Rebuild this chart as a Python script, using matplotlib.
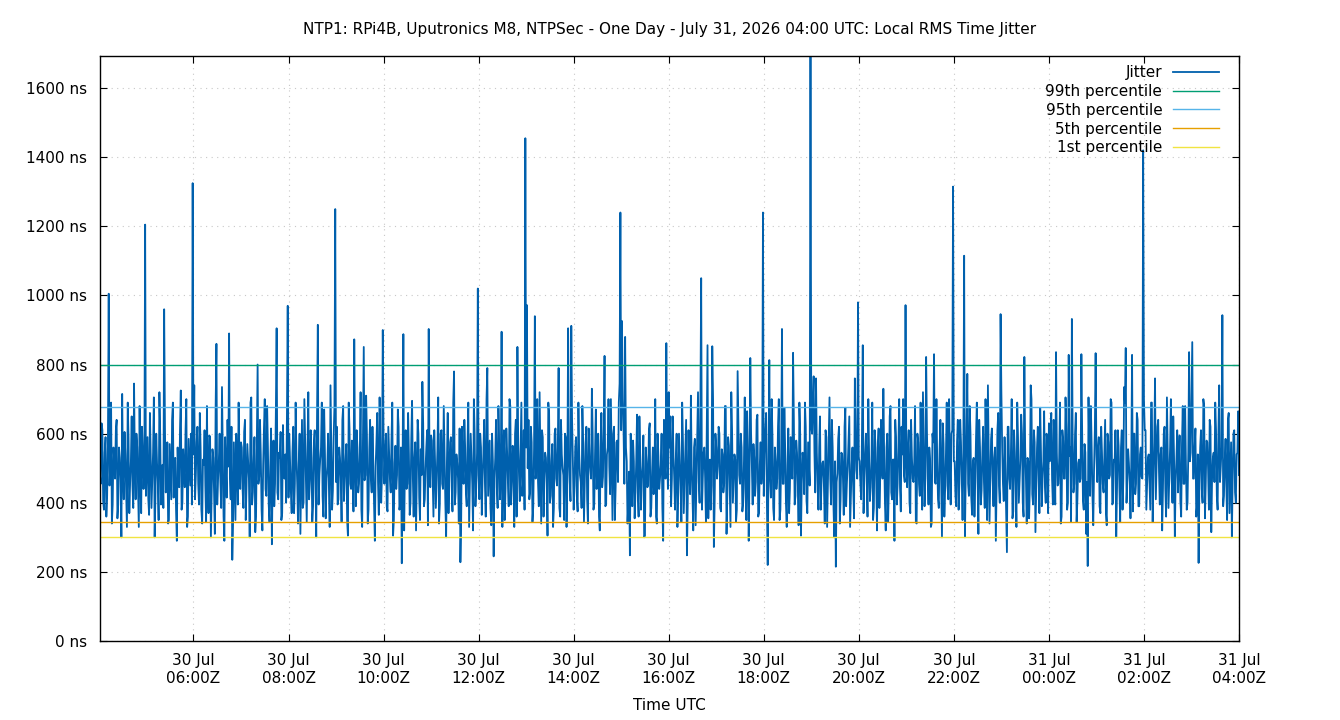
import datetime as dt
import numpy as np
import matplotlib
matplotlib.use('Agg')
import matplotlib.pyplot as plt
import matplotlib.dates as mdates
from matplotlib.ticker import MultipleLocator, FuncFormatter

# jitter samples in ns, one row per hour starting 30 Jul 04:01 UTC
# even minutes (04:01, 04:03, ...)
jitter_a = [
    [720, 455, 610, 380, 590, 420, 1005, 510, 340, 560, 470, 640, 395, 530, 300, 480, 605, 430, 690, 370, 520, 450, 745, 410, 560, 330, 475, 620, 440, 1205],
    [505, 410, 660, 385, 545, 300, 600, 460, 720, 395, 510, 960, 430, 575, 350, 490, 640, 415, 530, 290, 470, 610, 380, 555, 445, 700, 360, 520, 600, 1325],
    [740, 480, 620, 395, 560, 340, 510, 450, 680, 370, 590, 420, 530, 310, 860, 465, 600, 385, 545, 290, 495, 640, 890, 410, 235, 575, 350, 510, 690, 440],
    [560, 385, 640, 450, 520, 300, 705, 430, 590, 360, 800, 475, 540, 320, 615, 440, 680, 395, 505, 280, 580, 455, 905, 410, 530, 350, 625, 470, 400, 970],
    [600, 430, 545, 370, 690, 455, 515, 310, 640, 400, 580, 345, 720, 465, 530, 390, 610, 300, 915, 480, 560, 420, 670, 355, 505, 445, 740, 380, 590, 1250],
    [620, 410, 530, 345, 680, 470, 570, 305, 615, 440, 505, 873, 390, 560, 455, 720, 330, 851, 480, 595, 380, 640, 430, 520, 290, 575, 460, 705, 400, 900],
    [455, 600, 375, 540, 430, 690, 350, 565, 480, 620, 395, 225, 888, 510, 440, 660, 365, 585, 470, 530, 320, 640, 415, 555, 750, 390, 500, 610, 903, 445],
    [580, 360, 520, 470, 705, 395, 610, 440, 545, 300, 660, 485, 590, 375, 780, 430, 515, 340, 228, 620, 455, 560, 390, 690, 470, 530, 320, 600, 445, 1020],
    [410, 560, 470, 640, 360, 790, 500, 385, 600, 245, 530, 445, 680, 410, 895, 520, 350, 615, 460, 700, 395, 565, 330, 640, 851, 480, 550, 420, 610, 1455],
    [972, 640, 430, 575, 390, 940, 505, 460, 720, 340, 590, 475, 530, 305, 660, 420, 570, 385, 615, 450, 790, 360, 540, 480, 600, 330, 905, 470, 912, 520],
    [450, 590, 375, 540, 460, 680, 345, 570, 410, 615, 500, 730, 380, 545, 440, 600, 320, 660, 475, 825, 395, 560, 505, 700, 350, 620, 445, 580, 690, 1240],
    [926, 610, 880, 520, 400, 248, 470, 580, 355, 520, 430, 650, 380, 505, 300, 560, 445, 610, 360, 490, 425, 700, 340, 535, 470, 600, 290, 515, 862, 440],
    [560, 390, 650, 470, 525, 330, 600, 445, 690, 370, 540, 248, 610, 425, 505, 320, 585, 460, 720, 400, 1050, 470, 560, 345, 856, 490, 380, 853, 272, 600],
    [470, 620, 385, 555, 430, 680, 310, 590, 455, 720, 400, 540, 345, 781, 480, 600, 375, 520, 440, 665, 290, 819, 505, 570, 420, 640, 360, 510, 455, 1240],
    [540, 660, 220, 813, 415, 590, 350, 520, 470, 700, 380, 903, 455, 560, 330, 615, 440, 505, 834, 395, 580, 460, 690, 305, 545, 425, 620, 370, 510, 1690],
    [600, 766, 430, 545, 380, 650, 470, 520, 340, 590, 450, 705, 395, 560, 300, 215, 485, 620, 410, 540, 365, 675, 460, 580, 330, 510, 440, 760, 495, 980],
    [520, 410, 856, 475, 600, 360, 540, 445, 690, 385, 570, 320, 615, 470, 505, 730, 400, 560, 345, 650, 430, 525, 290, 590, 455, 700, 375, 540, 480, 972],
    [445, 610, 370, 535, 460, 680, 340, 575, 420, 505, 720, 390, 822, 480, 560, 330, 600, 830, 455, 520, 385, 640, 300, 570, 440, 690, 410, 515, 600, 1315],
    [520, 390, 640, 455, 575, 350, 1115, 480, 773, 420, 600, 365, 530, 460, 690, 310, 560, 435, 620, 385, 505, 740, 340, 585, 470, 530, 290, 610, 450, 946],
    [560, 405, 495, 257, 620, 440, 700, 375, 545, 330, 590, 460, 655, 400, 822, 470, 530, 355, 740, 425, 610, 315, 560, 480, 675, 390, 520, 445, 600, 370],
    [520, 660, 395, 575, 836, 450, 530, 340, 610, 470, 705, 380, 828, 560, 932, 430, 600, 345, 515, 460, 830, 405, 570, 310, 217, 540, 680, 420, 495, 833],
    [460, 590, 370, 545, 430, 640, 335, 575, 480, 690, 400, 520, 300, 610, 445, 560, 380, 735, 848, 470, 515, 355, 828, 600, 425, 660, 390, 540, 475, 1420],
    [610, 380, 530, 455, 690, 345, 575, 410, 620, 490, 540, 320, 600, 440, 705, 385, 560, 470, 650, 300, 525, 430, 595, 360, 680, 455, 510, 400, 836, 545],
    [865, 470, 615, 390, 226, 560, 440, 700, 355, 580, 495, 640, 315, 530, 460, 610, 380, 740, 505, 943, 420, 585, 350, 660, 470, 300, 600, 430, 540, 665],
]
# odd minutes (04:02, 04:04, ...)
jitter_b = [
    [480, 630, 405, 545, 360, 575, 450, 690, 395, 520, 610, 355, 560, 470, 715, 410, 540, 330, 590, 455, 650, 385, 515, 600, 440, 680, 370, 550, 505, 420],
    [590, 365, 540, 470, 705, 420, 515, 350, 600, 480, 385, 620, 455, 340, 570, 410, 690, 505, 380, 560, 445, 725, 400, 495, 610, 330, 585, 450, 395, 540],
    [410, 575, 455, 660, 380, 525, 610, 345, 470, 595, 300, 555, 430, 680, 395, 520, 460, 735, 360, 590, 415, 505, 470, 620, 340, 455, 600, 395, 530, 575],
    [440, 605, 350, 570, 470, 690, 395, 520, 315, 585, 455, 640, 380, 510, 700, 420, 560, 345, 615, 480, 390, 660, 430, 545, 605, 370, 480, 540, 650, 415],
    [510, 370, 620, 455, 535, 340, 600, 470, 385, 700, 455, 560, 410, 610, 345, 575, 480, 650, 395, 525, 690, 360, 540, 470, 600, 330, 560, 435, 680, 460],
    [395, 560, 470, 640, 405, 525, 350, 690, 455, 580, 375, 520, 610, 430, 545, 380, 600, 465, 710, 340, 555, 470, 620, 395, 505, 660, 365, 540, 480, 590],
    [540, 390, 620, 470, 580, 305, 515, 440, 670, 380, 560, 495, 320, 610, 455, 540, 400, 695, 360, 575, 470, 600, 350, 480, 630, 410, 560, 335, 520, 595],
    [470, 610, 385, 550, 340, 600, 455, 680, 400, 520, 370, 575, 450, 690, 395, 540, 470, 615, 350, 505, 640, 425, 570, 330, 600, 455, 700, 390, 545, 480],
    [600, 365, 540, 455, 700, 420, 580, 335, 520, 470, 640, 385, 560, 480, 330, 610, 440, 545, 390, 680, 460, 525, 600, 360, 570, 405, 690, 455, 380, 560],
    [500, 410, 620, 345, 560, 470, 700, 390, 535, 610, 360, 545, 455, 690, 400, 520, 330, 600, 470, 560, 385, 640, 500, 350, 590, 460, 530, 405, 640, 380],
    [560, 420, 690, 480, 385, 575, 455, 620, 340, 530, 470, 600, 395, 670, 505, 360, 560, 445, 610, 390, 540, 700, 425, 520, 600, 350, 575, 460, 745, 610],
    [700, 455, 560, 340, 490, 600, 390, 520, 430, 655, 360, 540, 470, 595, 305, 520, 450, 630, 385, 560, 470, 360, 600, 440, 510, 385, 640, 470, 545, 720],
    [650, 470, 540, 380, 600, 430, 520, 345, 575, 460, 640, 395, 505, 710, 420, 560, 335, 590, 460, 680, 380, 545, 470, 615, 355, 525, 450, 700, 400, 560],
    [505, 600, 375, 540, 455, 680, 420, 565, 330, 610, 470, 525, 380, 640, 455, 560, 400, 705, 350, 545, 480, 600, 395, 530, 460, 655, 370, 575, 490, 420],
    [610, 395, 520, 470, 700, 385, 560, 440, 620, 350, 540, 455, 675, 400, 510, 370, 590, 470, 640, 420, 545, 335, 600, 465, 520, 690, 405, 575, 450, 620],
    [700, 545, 760, 455, 560, 380, 515, 445, 610, 330, 560, 470, 640, 395, 520, 460, 585, 340, 545, 470, 620, 390, 505, 650, 420, 560, 355, 600, 470, 530],
    [455, 600, 370, 545, 470, 700, 405, 520, 350, 610, 460, 560, 385, 640, 470, 540, 320, 600, 455, 680, 410, 525, 640, 395, 560, 445, 620, 700, 460, 535],
    [560, 400, 640, 470, 520, 345, 600, 455, 690, 380, 545, 470, 610, 395, 525, 340, 575, 460, 700, 410, 555, 475, 630, 360, 540, 450, 700, 395, 610, 520],
    [420, 575, 380, 640, 470, 545, 300, 600, 455, 680, 415, 520, 360, 590, 470, 640, 395, 545, 460, 700, 350, 530, 470, 615, 390, 560, 445, 660, 400, 720],
    [455, 590, 380, 620, 470, 540, 355, 610, 450, 690, 400, 525, 600, 360, 560, 340, 520, 455, 700, 395, 575, 440, 620, 370, 545, 470, 665, 400, 580, 630],
    [600, 470, 640, 395, 545, 455, 690, 360, 580, 470, 610, 400, 535, 345, 590, 455, 660, 410, 525, 470, 600, 380, 545, 460, 705, 420, 560, 335, 610, 540],
    [560, 390, 620, 455, 540, 370, 600, 470, 700, 395, 525, 610, 440, 565, 345, 610, 470, 690, 400, 555, 460, 520, 375, 600, 455, 640, 390, 560, 470, 700],
    [610, 455, 540, 380, 690, 470, 760, 520, 640, 395, 560, 440, 620, 360, 545, 470, 700, 400, 530, 465, 610, 520, 405, 570, 455, 680, 380, 545, 520, 700],
    [470, 560, 360, 540, 455, 610, 400, 680, 455, 575, 380, 620, 470, 545, 690, 420, 600, 460, 560, 390, 520, 450, 640, 370, 575, 470, 610, 400, 545, 480],
]

jitter = []
for row_a, row_b in zip(jitter_a, jitter_b):
    for a, b in zip(row_a, row_b):
        jitter += [a, b]

# percentile levels (ns)
pct_labels = ['99th percentile', '95th percentile', '5th percentile', '1st percentile']
pct_values = [799, 677, 344, 301]
pct_colors = ['#009e73', '#56b4e9', '#e69f00', '#f0e442']

start = dt.datetime(2026, 7, 30, 4, 1)
times = [start + dt.timedelta(minutes=i) for i in range(len(jitter))]

plt.rcParams['font.family'] = ['DejaVu Sans']
fs = 11

fig = plt.figure(figsize=(13.4, 7.2), dpi=100)
ax = fig.add_axes([100 / 1340, 79 / 720, 1139 / 1340, 585 / 720])

ax.plot(times, jitter, color='#0060ad', lw=1.3, label='Jitter')
for lab, val, col in zip(pct_labels, pct_values, pct_colors):
    ax.axhline(val, color=col, lw=1.0, label=lab)

ax.set_xlim(dt.datetime(2026, 7, 30, 4, 2), dt.datetime(2026, 7, 31, 4, 0))
ax.set_ylim(0, 1693)
ax.yaxis.set_major_locator(MultipleLocator(200))
ax.yaxis.set_major_formatter(FuncFormatter(lambda v, p: '%d ns' % v))
ax.xaxis.set_major_locator(mdates.HourLocator(byhour=range(0, 24, 2)))
ax.xaxis.set_major_formatter(mdates.DateFormatter('%d %b\n%H:%MZ'))

ax.tick_params(direction='in', top=True, right=True, labelsize=fs, length=5, pad=9)
ax.grid(True, color='#c8c8c8', ls=(0, (1, 4)), lw=0.8)
ax.set_axisbelow(True)
for s in ax.spines.values():
    s.set_linewidth(1.0)

ax.set_xlabel('Time UTC', fontsize=fs, labelpad=9)
fig.suptitle('NTP1: RPi4B, Uputronics M8, NTPSec - One Day - July 31, 2026 04:00 UTC: Local RMS Time Jitter',
             fontsize=fs, y=0.97)

leg = ax.legend(loc='upper right', frameon=False, markerfirst=False, fontsize=fs,
                handlelength=3.0, labelspacing=0.25, borderaxespad=0,
                bbox_to_anchor=(1 - 14 / 1139, 1 - 3 / 585), handletextpad=0.7)

fig.savefig('out.png', dpi=100)
